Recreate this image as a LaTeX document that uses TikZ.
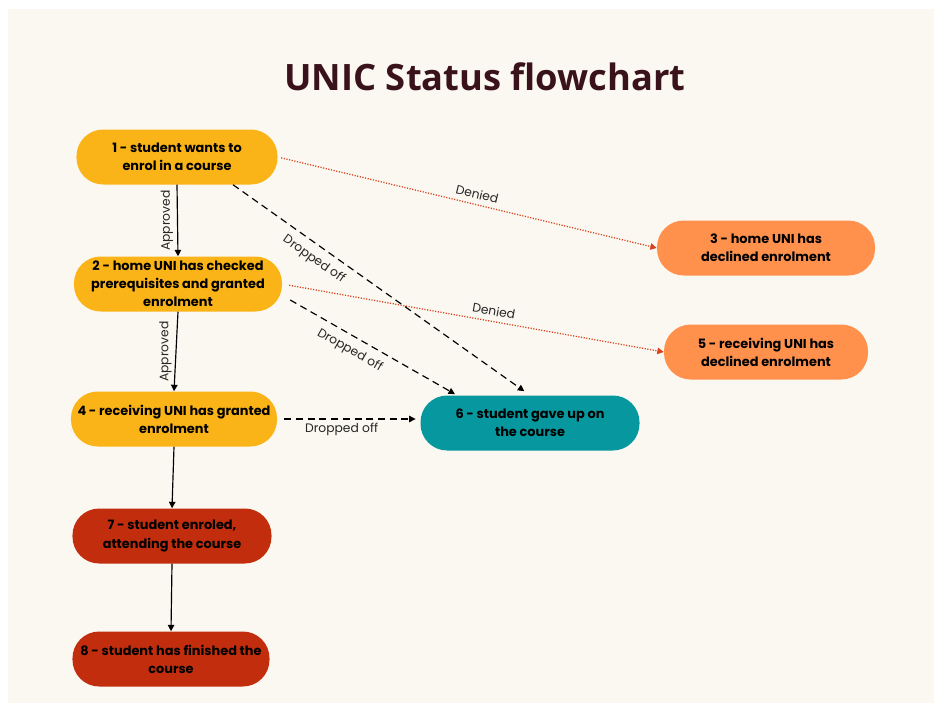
\documentclass[tikz,border=0pt]{standalone}
\usepackage{fontspec}
\setmainfont{Poppins}
\newfontfamily\titlefont{Open Sans}
\definecolor{UNICbg}{HTML}{FBF8F1}
\definecolor{UNICamber}{HTML}{FAB418}
\definecolor{UNICorange}{HTML}{FF914D}
\definecolor{UNICteal}{HTML}{07979E}
\definecolor{UNICred}{HTML}{C22E0D}
\definecolor{UNICtitle}{HTML}{3A121C}
\definecolor{UNICdenied}{HTML}{DA4320}
\usetikzlibrary{arrows.meta,positioning}

\begin{document}
\begin{tikzpicture}[x=0.03cm,y=-0.03cm,
  status/.style={rounded corners=0.8cm, minimum height=1.65cm, align=center,
    inner sep=0pt, font=\fontsize{11}{15.5}\selectfont\bfseries},
  ok/.style={-{Triangle[length=5.5pt,width=5.5pt]}, line width=1pt},
  drop/.style={ok, dash pattern=on 6pt off 4pt},
  deny/.style={ok, UNICdenied, line width=1.1pt, dash pattern=on 1pt off 1.3pt},
  lbl/.style={font=\fontsize{10.5}{12}\selectfont, text=black!85}]
  \fill[white] (0,0) rectangle (934,703);
  \useasboundingbox (0,0) rectangle (934,703);
  \fill[UNICbg] (8,9) rectangle (934,703);
  \node[font=\titlefont\bfseries\fontsize{31}{34}\selectfont, text=UNICtitle] (title) at (485,77) {UNIC Status flowchart};

  % status boxes
  \node[status, fill=UNICamber, minimum width=6.03cm] (s1) at (177,157) {1 - student wants to\\enrol in a course};
  \node[status, fill=UNICamber, minimum width=6.24cm] (s2) at (178,284) {2 - home UNI has checked\\prerequisites and granted\\enrolment};
  \node[status, fill=UNICorange, minimum width=6.54cm] (s3) at (766,248) {3 - home UNI has\\declined enrolment};
  \node[status, fill=UNICamber, minimum width=6.18cm] (s4) at (174,419) {4 - receiving UNI has granted\\enrolment};
  \node[status, fill=UNICorange, minimum width=6.12cm] (s5) at (766,352) {5 - receiving UNI has\\declined enrolment};
  \node[status, fill=UNICteal, minimum width=6.57cm] (s6) at (530,423) {6 - student gave up on\\the course};
  \node[status, fill=UNICred, minimum width=5.97cm] (s7) at (172,536) {7 - student enroled,\\attending the course};
  \node[status, fill=UNICred, minimum width=5.91cm] (s8) at (171,659) {8 - student has finished the\\course};

  % main path
  \draw[ok] (s1.south) -- node[lbl, midway, rotate=90, above] {Approved} (s2.north);
  \draw[ok] (s2.south) -- node[lbl, midway, rotate=90, above] {Approved} (s4.north);
  \draw[ok] (s4.south) -- (s7.north);
  \draw[ok] (s7.south) -- (s8.north);

  % denied
  \draw[deny, shorten <=3pt] (s1.east) -- node[lbl, pos=0.52, sloped, above=1pt] {Denied} (s3.west);
  \draw[deny, shorten <=6pt] (s2.east) -- node[lbl, pos=0.55, sloped, above=1pt] {Denied} (s5.west);

  % dropped off
  \draw[drop, shorten >=6pt] ([xshift=1.68cm]s1.south) -- node[lbl, pos=0.3, sloped, below=3pt] {Dropped off} (s6.north);
  \draw[drop, shorten >=2pt] ([shift={(0.24cm,-0.48cm)}]s2.east) -- node[lbl, pos=0.4, sloped, below=3pt] {Dropped off} ([xshift=-2.19cm]s6.north);
  \draw[drop, shorten <=6pt, shorten >=4pt] (s4.east) -- node[lbl, pos=0.45, below] {Dropped off} (s4.east -| s6.west);
\end{tikzpicture}
\end{document}
